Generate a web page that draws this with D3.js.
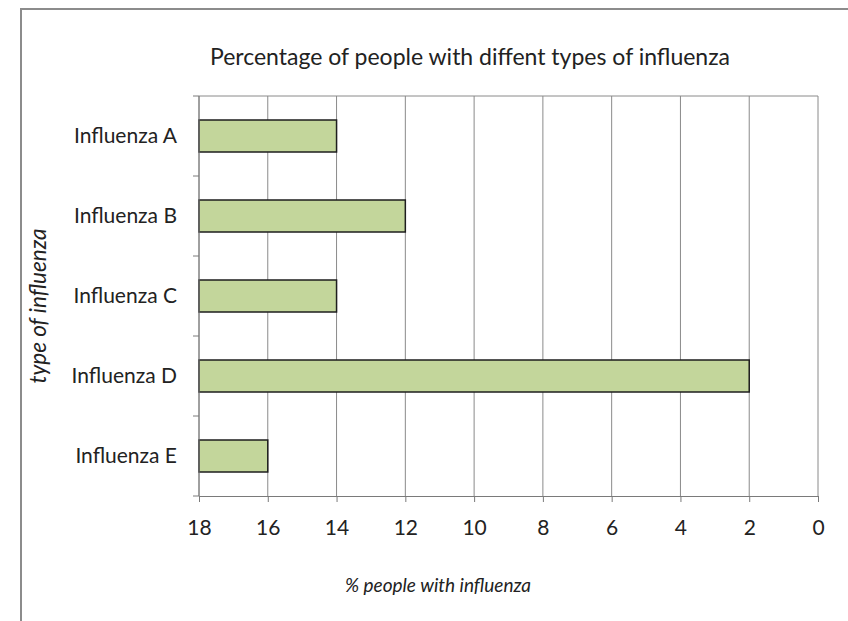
<!DOCTYPE html>
<html>
<head>
<meta charset="utf-8">
<script src="https://cdn.jsdelivr.net/npm/d3@7"></script>
<style>
  html, body { margin: 0; padding: 0; background: #fff; }
  svg { display: block; }
  text { font-family: Lato, "Open Sans", sans-serif; fill: #222; }
</style>
</head>
<body>
<svg id="chart" width="848" height="621"></svg>
<script>
// Influenza types and the share of people with each
const categories = ["Influenza A", "Influenza B", "Influenza C", "Influenza D", "Influenza E"];
const values = [14, 12, 14, 2, 16];
const xTicks = [18, 16, 14, 12, 10, 8, 6, 4, 2, 0];

const chartTitle = "Percentage of people with diffent types of influenza";
const xTitle = "% people with influenza";
const yTitle = "type of influenza";

const svg = d3.select("#chart");
const W = 848, H = 621;
const plot = { left: 199, right: 818, top: 96, bottom: 496 };

// Chart frame (open on the right and bottom)
svg.append("path")
  .attr("d", `M21,${H} V9 H${W}`)
  .attr("fill", "none")
  .attr("stroke", "#8c8c8c")
  .attr("stroke-width", 2);

// Reversed value axis: bars grow from the left edge (18) towards their value
const x = d3.scaleLinear().domain([18, 0]).range([plot.left, plot.right]);
const y = d3.scaleBand().domain(categories).range([plot.top, plot.bottom]).paddingInner(0.6).paddingOuter(0.3);
const yEdges = d3.scaleLinear().domain([0, categories.length]).range([plot.top, plot.bottom]);

// Vertical gridlines
svg.append("g")
  .selectAll("line")
  .data(xTicks)
  .join("line")
  .attr("x1", d => x(d)).attr("x2", d => x(d))
  .attr("y1", plot.top).attr("y2", plot.bottom)
  .attr("stroke", "#8a8a8a")
  .attr("stroke-width", 1);

// Top border of the plot area
svg.append("line")
  .attr("x1", plot.left).attr("x2", plot.right)
  .attr("y1", plot.top).attr("y2", plot.top)
  .attr("stroke", "#8a8a8a");

// Bars
svg.append("g")
  .selectAll("rect")
  .data(categories.map((c, i) => ({ c, v: values[i] })))
  .join("rect")
  .attr("x", plot.left)
  .attr("y", d => y(d.c))
  .attr("width", d => x(d.v) - plot.left)
  .attr("height", y.bandwidth())
  .attr("fill", "#c3d69b")
  .attr("stroke", "#1e1e1e")
  .attr("stroke-width", 1.5);

// Category axis with ticks between categories
const yAxisG = svg.append("g");
yAxisG.append("line")
  .attr("x1", plot.left).attr("x2", plot.left)
  .attr("y1", plot.top).attr("y2", plot.bottom)
  .attr("stroke", "#7a7a7a");
yAxisG.selectAll("line.tick")
  .data(d3.range(categories.length + 1))
  .join("line")
  .attr("class", "tick")
  .attr("x1", plot.left - 6).attr("x2", plot.left)
  .attr("y1", d => yEdges(d)).attr("y2", d => yEdges(d))
  .attr("stroke", "#7a7a7a");
yAxisG.selectAll("text")
  .data(categories)
  .join("text")
  .attr("x", 177)
  .attr("y", d => y(d) + y.bandwidth() / 2)
  .attr("dy", "0.35em")
  .attr("text-anchor", "end")
  .attr("font-size", 21)
  .text(d => d);

// Value axis at the bottom
const xAxis = d3.axisBottom(x).tickValues(xTicks).tickSize(6).tickPadding(18).tickFormat(d3.format("d"));
const xAxisG = svg.append("g")
  .attr("transform", `translate(0,${plot.bottom})`)
  .call(xAxis);
xAxisG.select(".domain").attr("stroke", "#7a7a7a");
xAxisG.selectAll(".tick line").attr("stroke", "#7a7a7a");
xAxisG.selectAll(".tick text")
  .attr("font-family", "Lato, 'Open Sans', sans-serif")
  .attr("font-size", 21)
  .attr("fill", "#222");

// Titles
svg.append("text")
  .attr("x", 470).attr("y", 65)
  .attr("text-anchor", "middle")
  .attr("font-size", 23)
  .text(chartTitle);

svg.append("text")
  .attr("x", 438).attr("y", 592)
  .attr("text-anchor", "middle")
  .attr("font-size", 19)
  .attr("font-style", "italic")
  .text(xTitle);

svg.append("text")
  .attr("transform", "translate(46,306) rotate(-90)")
  .attr("text-anchor", "middle")
  .attr("font-size", 22.5)
  .attr("font-style", "italic")
  .text(yTitle);
</script>
</body>
</html>
